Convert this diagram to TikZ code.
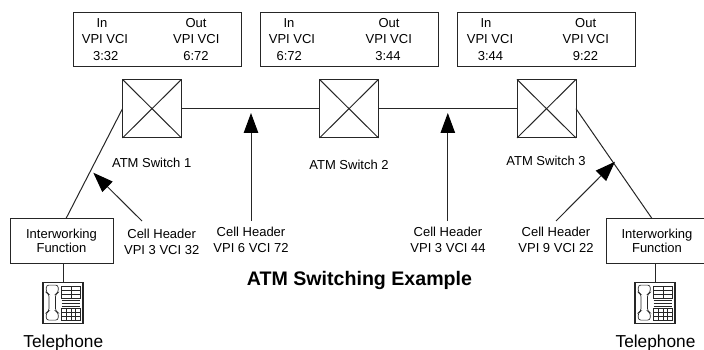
\documentclass[tikz,border=0pt]{standalone}
\usepackage{fontspec}
\setmainfont{Liberation Sans}
\usetikzlibrary{arrows.meta}
\tikzset{
  x=1pt,y=-1pt,
  every node/.style={inner sep=0pt,outer sep=0pt},
  link/.style={draw=black!85,line width=1pt},
  tablebox/.style={draw=black!85,line width=1pt,minimum height=54pt},
  switchbox/.style={draw=black!85,line width=1pt,minimum width=59pt,minimum height=58.5pt},
  iwbox/.style={draw=black!85,line width=1pt,minimum height=44.5pt,align=center,font=\fontsize{13}{14.5}\selectfont},
  phonebox/.style={draw=black!85,line width=1.2pt,minimum width=40pt,minimum height=41pt},
  lbl/.style={anchor=base,align=center,font=\fontsize{13}{16}\selectfont},
  phonelbl/.style={anchor=base,font=\fontsize{17.3}{20}\selectfont},
  titlelbl/.style={anchor=base,font=\fontsize{19.6}{22}\selectfont\bfseries},
  pointer/.style={draw=black!85,line width=1pt,-{Triangle[length=20pt,width=14.5pt,color=black]}},
  fine/.style={draw=black!85,line width=.65pt},
  pics/phonefig/.style={code={
    \draw[fine,rounded corners=2.5pt] (-16.7,-17.5) -- (-4.8,-17.5) -- (-4.8,-10) -- (-7.5,-8.5) -- (-7.5,8.5) -- (-4.8,10) -- (-4.8,17.5) -- (-16.7,17.5) -- (-16.7,10) -- (-14,8.5) -- (-14,-8.5) -- (-16.7,-10) -- cycle;
    \draw[fine] (-1.3,-16) rectangle (17,-4.5);
    \draw[fine] (7.85,-16) -- (7.85,-4.5);
    \draw[fine] (-1.3,-12.2) -- (17,-12.2) (-1.3,-8.4) -- (17,-8.4);
    \draw[line width=1.1pt,draw=black!85] (-1.3,-1.7) -- (17,-1.7) (-1.3,.9) -- (17,.9) (-1.3,3.5) -- (17,3.5);
    \draw[fine] (-1.3,6) rectangle (17,17.8);
    \draw[fine] (3.3,6) -- (3.3,17.8) (7.85,6) -- (7.85,17.8) (12.4,6) -- (12.4,17.8);
    \draw[fine] (-1.3,9.9) -- (17,9.9) (-1.3,13.8) -- (17,13.8);
  }}
}
\begin{document}
\begin{tikzpicture}
\path[use as bounding box,clip] (0,0) rectangle (704,350);
% routing tables
\node[tablebox,minimum width=168pt] (t1) at (157,40) {};
\node[tablebox,minimum width=178pt] (t2) at (349,40) {};
\node[tablebox,minimum width=178.5pt] (t3) at (546.7,40) {};
\node[lbl] (t1a) at (102,28) {In};
\node[lbl] (t1b) at (105,44) {VPI VCI};
\node[lbl] (t1c) at (105.7,61) {3:32};
\node[lbl] (t1d) at (196,28) {Out};
\node[lbl] (t1e) at (196.3,44) {VPI VCI};
\node[lbl] (t1f) at (196,61) {6:72};
\node[lbl] (t2a) at (289,28) {In};
\node[lbl] (t2b) at (292,44) {VPI VCI};
\node[lbl] (t2c) at (289.3,61) {6:72};
\node[lbl] (t2d) at (389,28) {Out};
\node[lbl] (t2e) at (388.8,44) {VPI VCI};
\node[lbl] (t2f) at (388,61) {3:44};
\node[lbl] (t3a) at (486,28) {In};
\node[lbl] (t3b) at (490,44) {VPI VCI};
\node[lbl] (t3c) at (490.5,61) {3:44};
\node[lbl] (t3d) at (585.7,28) {Out};
\node[lbl] (t3e) at (585.8,44) {VPI VCI};
\node[lbl] (t3f) at (585.5,61) {9:22};
% switches
\node[switchbox] (s1) at (152,108.7) {};
\node[switchbox] (s2) at (349,108.7) {};
\node[switchbox] (s3) at (546.5,108.7) {};
\foreach \s in {s1,s2,s3}{
  \draw[link] (\s.north west) -- (\s.south east);
  \draw[link] (\s.north east) -- (\s.south west);
}
\node[lbl] (s1l) at (151.7,167.7) {ATM Switch 1};
\node[lbl] (s2l) at (349,169.7) {ATM Switch 2};
\node[lbl] (s3l) at (546,165.7) {ATM Switch 3};
% interworking functions
\node[iwbox,minimum width=103pt] (i1) at (61.5,240.8) {Interworking\\Function};
\node[iwbox,minimum width=102pt] (i2) at (657,240.8) {Interworking\\Function};
% telephones
\node[phonebox] (p1) at (63,302.6) {};
\node[phonebox] (p2) at (655,302.6) {};
\path (p1.center) pic {phonefig};
\path (p2.center) pic {phonefig};
\node[phonelbl] (p1l) at (63.3,347.3) {Telephone};
\node[phonelbl] (p2l) at (655.5,347.3) {Telephone};
% links
\draw[link] (s1.east) -- (s2.west);
\draw[link] (s2.east) -- (s3.west);
\draw[link] (s1.west) -- ([xshift=4.5pt]i1.north);
\draw[link] (s3.east) -- ([xshift=-5pt]i2.north);
\draw[link] (p1.north) -- (p1.north |- i1.south);
\draw[link] (p2.north) -- (p2.north |- i2.south);
% cell headers
\node[lbl] (c1) at (161.7,254.7) {Cell Header\\VPI 3 VCI 32};
\node[lbl] (c2) at (251,252.7) {Cell Header\\VPI 6 VCI 72};
\node[lbl] (c3) at (448,252.7) {Cell Header\\VPI 3 VCI 44};
\node[lbl] (c4) at (556,252.7) {Cell Header\\VPI 9 VCI 22};
\coordinate (a1s) at (142,221);
\coordinate (a1e) at (93.3,172.7);
\coordinate (a2s) at (251,221);
\coordinate (a2e) at (251,113);
\coordinate (a3s) at (447.8,221);
\coordinate (a3e) at (447.8,113);
\coordinate (a4s) at (556,221);
\coordinate (a4e) at (615,161.7);
\draw[pointer] (a1s) -- (a1e);
\draw[pointer] (a2s) -- (a2e);
\draw[pointer] (a3s) -- (a3e);
\draw[pointer] (a4s) -- (a4e);
\node[titlelbl] (title) at (359.5,285.5) {ATM Switching Example};
\end{tikzpicture}
\end{document}
